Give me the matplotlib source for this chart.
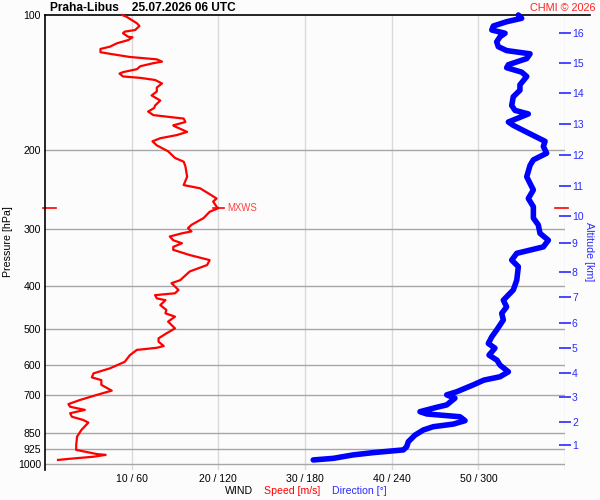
import matplotlib
matplotlib.use("Agg")
import matplotlib.pyplot as plt
import matplotlib.transforms as mtransforms
from matplotlib.ticker import NullLocator

plt.rcParams['font.family'] = ['Liberation Sans', 'DejaVu Sans']

# ---- data ----
speed_p = [977, 971, 961, 952, 948, 928, 905, 867, 838, 807,
           796, 783, 769, 756, 744, 734, 719, 700, 685, 665,
           649, 640, 627, 611, 591, 571, 556, 550, 545, 533,
           524, 511, 498, 481, 469, 461, 453, 442, 431, 427,
           420, 416, 409, 395, 389, 372, 360, 351, 342, 333,
           328, 322, 317, 311, 306, 303, 298, 293, 283, 274,
           269, 267, 260, 256, 247, 243, 239, 229, 217, 212,
           208, 201, 195, 191, 188, 185, 182, 177, 176, 173,
           170, 167, 164, 161, 159, 155, 151, 148, 145, 142,
           139.5, 138, 137, 135, 134, 132, 130, 128, 127, 125.5,
           124, 122, 121, 119, 117.6, 115.6, 113.7, 112.1, 111.8, 109.8,
           108.9, 108.0, 105.8, 104.3, 100.9, 100]
speed = [1.5, 2.9, 5.6, 7.0, 6.0, 3.6, 3.6, 3.7, 4.2, 5.0,
         4.4, 3.1, 2.9, 4.6, 2.9, 2.7, 4.0, 6.0, 7.7, 6.5,
         6.5, 5.4, 5.6, 7.5, 9.2, 9.8, 10.6, 12.9, 13.7, 13.1,
         13.1, 14.0, 15.0, 14.2, 15.0, 13.9, 14.0, 13.3, 13.9, 12.9,
         12.7, 15.0, 15.4, 14.6, 15.6, 16.7, 18.7, 19.0, 16.7, 14.8,
         14.8, 15.8, 14.8, 14.4, 15.8, 16.9, 16.5, 16.9, 18.3, 19.0,
         20.0, 19.8, 19.4, 19.8, 18.5, 17.9, 16.0, 16.4, 16.2, 16.0,
         15.0, 14.2, 12.9, 12.4, 13.3, 15.2, 16.4, 15.0, 14.8, 16.2,
         16.0, 12.5, 11.9, 12.6, 12.7, 13.3, 12.3, 12.9, 12.9, 13.5,
         12.7, 11.0, 9.0, 8.6, 9.0, 10.6, 11.0, 12.5, 13.5, 12.9,
         9.8, 7.5, 6.4, 6.4, 7.5, 8.3, 9.6, 10.1, 9.6, 9.0,
         9.2, 10.4, 10.9, 10.6, 9.4, 8.9]

dir_p = [977, 969, 952, 941, 928, 913, 890, 860, 838, 824,
         813, 799, 783, 772, 763, 746, 737, 712, 700, 689,
         665, 649, 638, 622, 601, 586, 571, 551, 538, 520,
         502, 477, 461, 446, 431, 409, 389, 363, 351, 339,
         328, 317, 306, 293, 283, 267, 256, 245, 237, 229,
         216, 210, 203, 196, 191, 183, 176, 173, 166, 163,
         159, 152, 147, 143, 137, 134, 131, 129, 125, 122,
         120, 117.6, 114.7, 111.8, 109.8, 108.0, 105.8, 103.5, 101.7, 100]
direction = [185.7, 199.6, 213.4, 227.3, 248.1, 250.4, 251.5, 256.2, 261.9, 268.8,
             282.7, 290.8, 287.3, 264.3, 259.6, 271.2, 278.1, 283.8, 278.1, 285.0,
             296.5, 303.9, 315.0, 320.8, 315.0, 312.9, 307.4, 311.5, 306.9, 309.3,
             312.7, 317.3, 316.2, 319.6, 317.3, 324.2, 326.6, 327.7, 323.1, 326.6,
             345.0, 348.5, 342.7, 341.5, 338.1, 338.1, 334.6, 338.1, 335.8, 333.5,
             335.8, 338.1, 347.3, 345.0, 346.2, 334.6, 324.2, 320.8, 334.6, 325.4,
             323.1, 324.2, 328.8, 328.8, 333.5, 330.0, 319.6, 320.8, 333.5, 335.8,
             319.6, 313.8, 312.7, 315.0, 318.5, 309.3, 310.4, 319.6, 330.0, 327.7]

p_levels = [100, 200, 300, 400, 500, 600, 700, 850, 925, 1000]
speed_ticks = [10, 20, 30, 40, 50]
dir_ticks = [60, 120, 180, 240, 300]
alt_km = [1, 2, 3, 4, 5, 6, 7, 8, 9, 10, 11, 12, 13, 14, 15, 16]
alt_p = [906.3, 804.3, 709.5, 625.0, 551.3, 483.7, 423.4, 372.6, 322.0, 279.6,
         239.8, 204.9, 174.8, 149.4, 127.7, 109.8]
mxws_p = 269
mxws_speed = 20.0

W, H = 600, 500
fig = plt.figure(figsize=(6, 5), dpi=100, facecolor='#fcfcfc')
ax = fig.add_axes([45 / W, 1 - 469.5 / H, 520 / W, 454.5 / H])
ax.set_facecolor('#fcfcfc')
ax.set_yscale('log')
ax.set_ylim(1026, 100)
ax.set_xlim(0, 60)

for p in p_levels[1:]:
    ax.axhline(p, color='#a6a6a6', lw=1, zorder=1)
for s in speed_ticks + [60]:
    ax.axvline(s, color='#d9d9d9', lw=1, zorder=0.9)

btrans = mtransforms.blended_transform_factory(ax.transAxes, ax.transData)
ax.plot([0, 545 / 520], [100, 100], color='black', lw=1.2, transform=btrans,
        clip_on=False, zorder=3)

for k in ['top', 'right', 'bottom']:
    ax.spines[k].set_visible(False)
ax.spines['left'].set_linewidth(1.2)

ax.yaxis.set_minor_locator(NullLocator())
ax.set_yticks(p_levels)
ax.set_yticklabels([str(p) for p in p_levels])
ax.tick_params(axis='y', length=0, pad=3, labelsize=7.6)
ax.set_xticks(speed_ticks)
ax.set_xticklabels([f"{s} / {d}" for s, d in zip(speed_ticks, dir_ticks)])
ax.tick_params(axis='x', length=0, pad=3, labelsize=7.6)

ax.plot(speed, speed_p, color='red', lw=1.6, zorder=4, clip_on=False,
        solid_joinstyle='round')

# direction on its own x scale
axd = ax.twiny()
axd.set_xlim(0, 360)
axd.plot(direction, dir_p, color='blue', lw=4.0, solid_capstyle='round',
         solid_joinstyle='round', zorder=4, clip_on=False)
axd.set_xticks([])
for k in axd.spines:
    axd.spines[k].set_visible(False)

# altitude axis
axa = ax.twinx()
axa.set_yscale('log')
axa.set_ylim(1026, 100)
axa.yaxis.set_minor_locator(NullLocator())
axa.set_yticks(alt_p)
axa.set_yticklabels([str(a) for a in alt_km])
axa.tick_params(axis='y', colors='#2a2aff', direction='inout', length=8,
                width=1.2, pad=1, labelsize=7.5)
for k in axa.spines:
    axa.spines[k].set_visible(False)

# MXWS markers
ax.plot([-0.004, 0.021], [mxws_p, mxws_p], color='red', lw=1.2, transform=btrans, clip_on=False)
ax.plot([0.981, 1.006], [mxws_p, mxws_p], color='red', lw=1.2, transform=btrans, clip_on=False)
ax.plot([mxws_speed - 0.6, mxws_speed + 0.7], [mxws_p, mxws_p], color='red', lw=1.2, zorder=5)
ax.text(mxws_speed + 1.0, mxws_p, 'MXWS', color='#ff4040', fontsize=6.9,
        ha='left', va='center')

# texts
fig.text(50 / W, 1 - 8 / H, 'Praha-Libus    25.07.2026 06 UTC', fontsize=8.6,
         fontweight='bold', ha='left', va='center')
fig.text(596 / W, 1 - 8 / H, 'CHMI \u00a9 2026', fontsize=7.8, color='#ff2020',
         ha='right', va='center')
fig.text(8 / W, 1 - 242 / H, 'Pressure [hPa]', rotation=90, fontsize=7.7,
         ha='center', va='center')
fig.text(589 / W, 1 - 252 / H, 'Altitude [km]', rotation=270, fontsize=7.7,
         color='#2a2aff', ha='center', va='center')
fig.text(225 / W, 1 - 491 / H, 'WIND', fontsize=7.6, ha='left', va='center')
fig.text(264 / W, 1 - 491 / H, 'Speed [m/s]', fontsize=7.6, color='red',
         ha='left', va='center')
fig.text(332 / W, 1 - 491 / H, 'Direction [\u00b0]', fontsize=7.6, color='#2a2aff',
         ha='left', va='center')

fig.savefig('out.png', dpi=100, facecolor=fig.get_facecolor())
